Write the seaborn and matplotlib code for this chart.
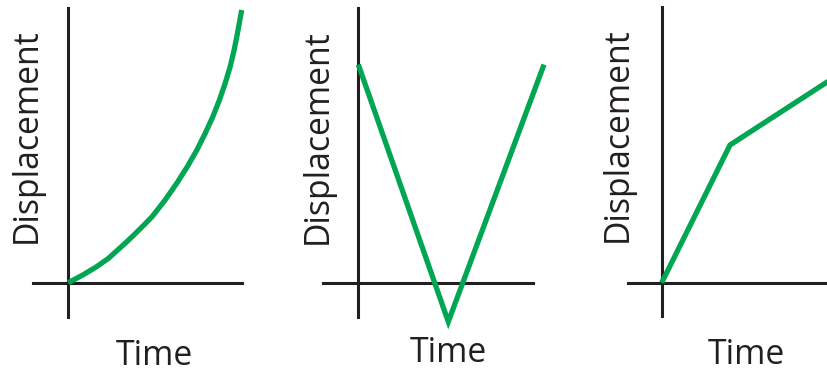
import matplotlib
matplotlib.use('Agg')
import matplotlib.pyplot as plt
import seaborn as sns

sns.set_style('white')
plt.rcParams['font.family'] = ['Open Sans', 'DejaVu Sans']

# values (time, displacement) in arbitrary units
curve_time = [0, 0.83, 1.64, 2.31, 2.85, 3.37, 3.88, 4.37, 4.83, 5.58, 6.25,
              6.86, 7.41, 7.89, 8.33, 8.71, 9.04, 9.33, 9.56, 9.75, 10.0]
curve_disp = [0, 0.28, 0.59, 0.89, 1.20, 1.50, 1.81, 2.12, 2.42, 3.03, 3.64,
              4.25, 4.86, 5.47, 6.08, 6.69, 7.30, 7.91, 8.52, 9.13, 10.0]

v_time = [0, 5.19, 10.71]
v_disp = [8.0, -1.43, 8.0]

bend_time = [0, 3.94, 9.71]
bend_disp = [0, 5.05, 7.43]

x_label = 'Time'
y_label = 'Displacement'

GREEN = '#00a651'
INK = '#231f20'

W, H = 827, 373
SX, SY = 17.34, 27.27  # pixels per data unit

fig = plt.figure(figsize=(W / 100, H / 100), dpi=100)

# per panel: origin (px), axes box (left, right, top, bottom), xlabel centre/baseline, ylabel baseline/start
panels = [
    dict(t=curve_time, d=curve_disp, origin=(68.3, 282.7), box=(33, 242, 8, 317),
         xl=(154.5, 365), yl=(36, 243), join='round'),
    dict(t=v_time, d=v_disp, origin=(358.3, 282.7), box=(323, 533, 8, 317),
         xl=(448.5, 362), yl=(327, 244), join='miter'),
    dict(t=bend_time, d=bend_disp, origin=(661.7, 282.7), box=(628, 880, 7, 316),
         xl=(746.5, 364), yl=(627, 242), join='miter'),
]

for p in panels:
    ox, oy = p['origin']
    left, right, top, bottom = p['box']
    ax = fig.add_axes([left / W, 1 - bottom / H, (right - left) / W, (bottom - top) / H])
    sns.lineplot(x=p['t'], y=p['d'], ax=ax, color=GREEN, linewidth=3.8,
                 solid_joinstyle=p['join'], solid_capstyle='butt')
    for line in ax.lines:
        line.set_clip_on(False)
    ax.set_xlim((left - ox) / SX, (right - ox) / SX)
    ax.set_ylim((oy - bottom) / SY, (oy - top) / SY)
    ax.set_xticks([])
    ax.set_yticks([])
    ax.patch.set_alpha(0)
    for side in ['top', 'right']:
        ax.spines[side].set_visible(False)
    for side in ['left', 'bottom']:
        ax.spines[side].set_position(('data', 0))
        ax.spines[side].set_color(INK)
        ax.spines[side].set_linewidth(2.2)
        ax.spines[side].set_zorder(1)

    ax.set_xlabel(x_label, fontsize=24.3, color=INK)
    ax.xaxis.label.set_va('baseline')
    ax.xaxis.label.set_ha('center')
    ax.xaxis.set_label_coords(p['xl'][0] / W, 1 - p['xl'][1] / H, transform=fig.transFigure)

    ax.set_ylabel(y_label, fontsize=24.3, color=INK)
    ax.yaxis.label.set_va('baseline')
    ax.yaxis.label.set_ha('left')
    ax.yaxis.set_label_coords(p['yl'][0] / W, 1 - p['yl'][1] / H, transform=fig.transFigure)

fig.savefig('out.png', dpi=100)
